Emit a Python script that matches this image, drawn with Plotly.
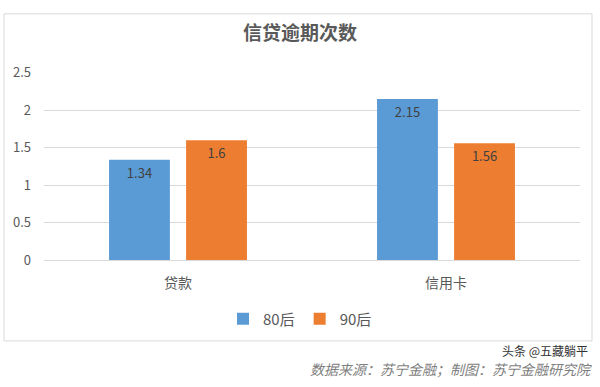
import plotly.graph_objects as go

categories = ["贷款", "信用卡"]
series_names = ["80后", "90后"]
values_80 = [1.34, 2.15]
values_90 = [1.6, 1.56]
labels_80 = ["1.34", "2.15"]
labels_90 = ["1.6", "1.56"]
tick_vals = [0, 0.5, 1, 1.5, 2, 2.5]
tick_text = ["0", "0.5", "1", "1.5", "2", "2.5"]

FONT = "Noto Sans CJK SC, Open Sans, sans-serif"
W, H = 600, 387

fig = go.Figure()
fig.add_trace(go.Bar(
    x=categories, y=values_80, name=series_names[0],
    marker=dict(color="#5B9BD5", line=dict(width=0)),
    text=labels_80, textposition="inside", insidetextanchor="end",
    textfont=dict(color="#404040", size=13, family=FONT),
    textangle=0,
))
fig.add_trace(go.Bar(
    x=categories, y=values_90, name=series_names[1],
    marker=dict(color="#ED7D31", line=dict(width=0)),
    text=labels_90, textposition="inside", insidetextanchor="end",
    textfont=dict(color="#404040", size=13, family=FONT),
    textangle=0,
))

# plot area: x 44..580, y 66..263 (pixels)
fig.update_layout(
    width=W, height=H,
    margin=dict(l=0, r=0, t=0, b=0),
    paper_bgcolor="white", plot_bgcolor="white",
    barmode="group", bargap=0.425, bargroupgap=0.21,
    font=dict(family=FONT, color="#595959", size=12),
    title=dict(text="<b>信贷逾期次数</b>", x=0.5, xanchor="center",
               y=1 - 33 / H, yanchor="middle",
               font=dict(size=19, color="#595959", family=FONT)),
    xaxis=dict(domain=[44 / W, 580 / W], showgrid=False, showline=False,
               ticks="", tickfont=dict(size=14, color="#595959")),
    yaxis=dict(domain=[1 - 263 / H, 1 - 66 / H], range=[0, 2.5],
               tickvals=tick_vals, ticktext=tick_text,
               showgrid=True, gridcolor="#D9D9D9", gridwidth=1,
               zeroline=True, zerolinecolor="#D9D9D9", zerolinewidth=1,
               showline=False, ticks="", ticklabelstandoff=12,
               tickfont=dict(size=13, color="#595959")),
    legend=dict(orientation="h", x=0.5, xanchor="center",
                y=1 - 325 / H, yanchor="middle",
                font=dict(size=15, color="#595959"),
                itemwidth=30, tracegroupgap=0),
    showlegend=True,
)
fig.update_xaxes(ticklabelstandoff=13)

# outer chart border
fig.add_shape(type="rect", xref="paper", yref="paper",
              x0=4 / W, x1=592 / W, y0=1 - 348 / H, y1=1 - 4 / H,
              line=dict(color="#D9D9D9", width=1), fillcolor="rgba(0,0,0,0)",
              layer="below")

fig.add_annotation(text="<i>数据来源：苏宁金融；制图：苏宁金融研究院</i>",
                   xref="paper", yref="paper", x=594 / W, y=1 - 378 / H,
                   xanchor="right", yanchor="middle", showarrow=False,
                   font=dict(size=14, color="#7F7F7F", family=FONT))
fig.add_annotation(text="头条 @五藏躺平",
                   xref="paper", yref="paper", x=590 / W, y=1 - 358 / H,
                   xanchor="right", yanchor="middle", showarrow=False,
                   font=dict(size=12, color="#333333", family=FONT))

fig.write_html("out.html")
